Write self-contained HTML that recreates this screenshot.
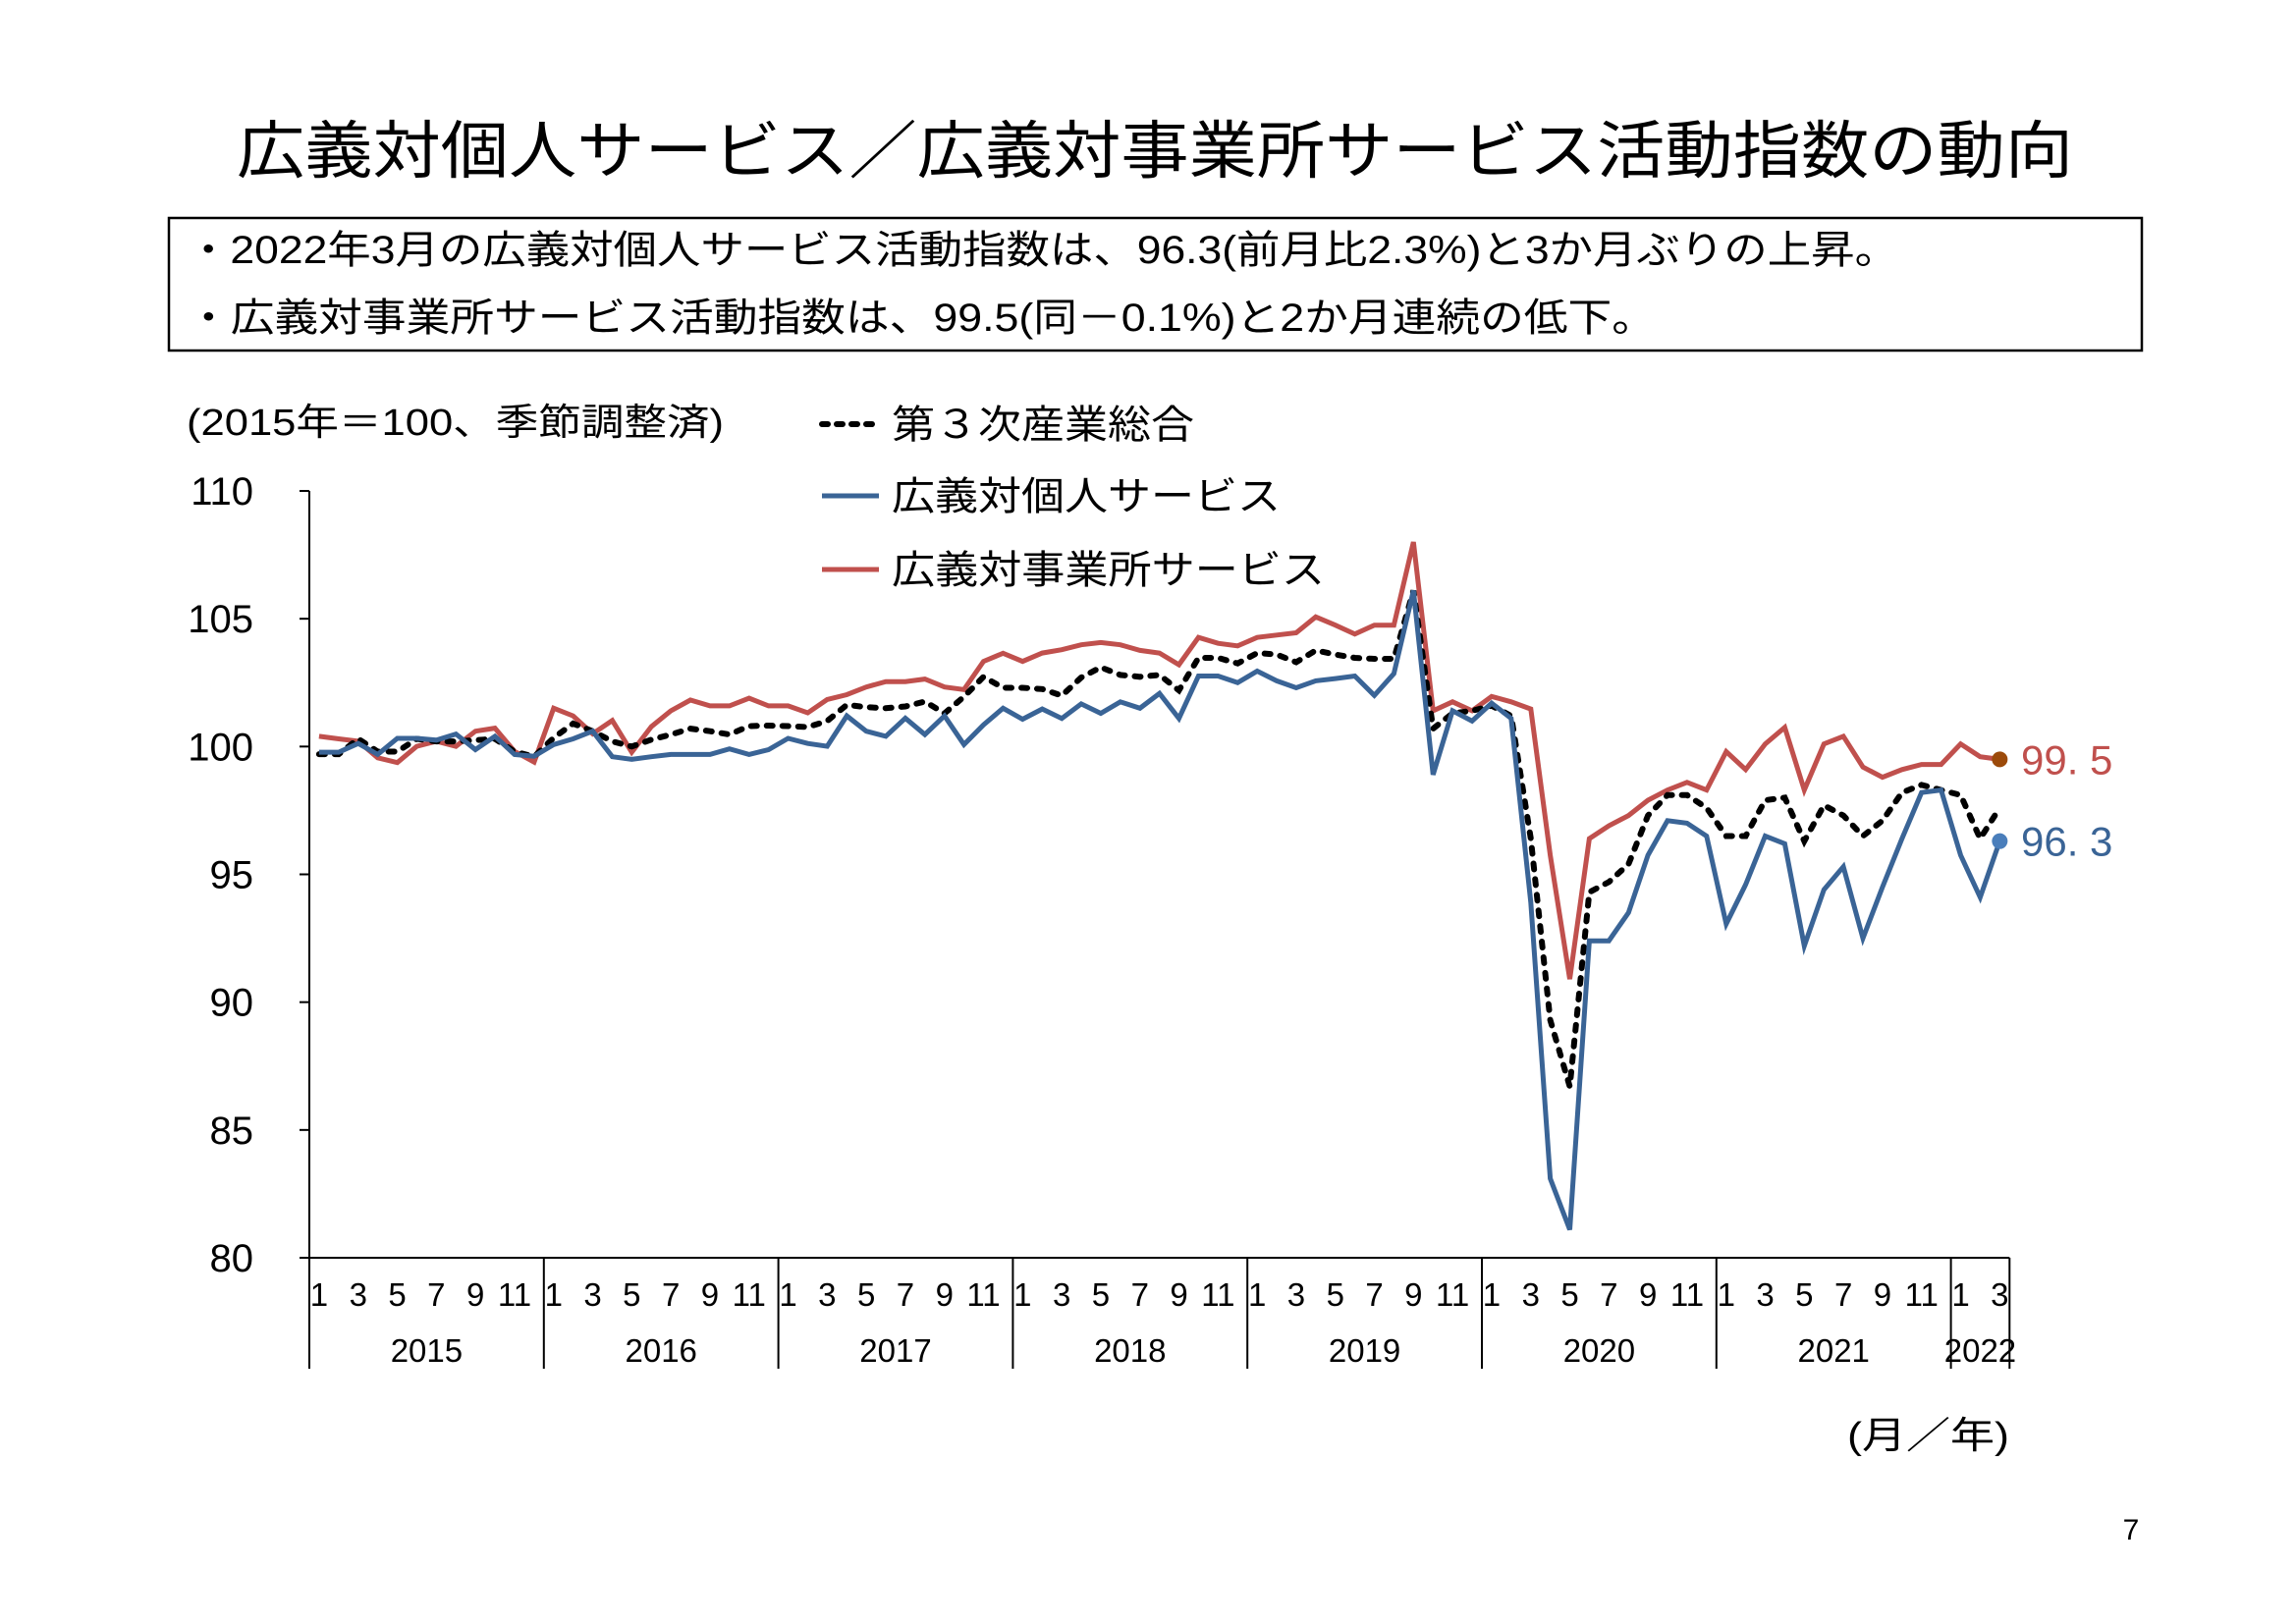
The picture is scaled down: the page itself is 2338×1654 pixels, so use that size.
<!DOCTYPE html>
<html><head><meta charset="utf-8">
<style>
html,body{margin:0;padding:0;background:#fff;}
svg{display:block;}
text{font-family:"Liberation Sans Narrow","Liberation Sans","Noto Sans CJK JP",sans-serif;}
.jp{font-family:"Liberation Sans","Noto Sans CJK JP",sans-serif;}
</style></head>
<body>
<svg id="chart" xmlns="http://www.w3.org/2000/svg" width="2338" height="1654" viewBox="0 0 2338 1654">
<text class="jp" x="1176" y="176" font-size="64" text-anchor="middle" textLength="1870" lengthAdjust="spacingAndGlyphs">広義対個人サービス／広義対事業所サービス活動指数の動向</text>
<rect x="172" y="222" width="2009" height="135" fill="none" stroke="#000" stroke-width="2.5"/>
<text class="jp" x="190" y="268" font-size="40" textLength="1743" lengthAdjust="spacingAndGlyphs">・2022年3月の広義対個人サービス活動指数は、96.3(前月比2.3%)と3か月ぶりの上昇。</text>
<text class="jp" x="190" y="337" font-size="40" textLength="1496" lengthAdjust="spacingAndGlyphs">・広義対事業所サービス活動指数は、99.5(同－0.1%)と2か月連続の低下。</text>
<text class="jp" x="190" y="443" font-size="38" textLength="547" lengthAdjust="spacingAndGlyphs">(2015年＝100、季節調整済)</text>
<g>
<line x1="837" y1="432" x2="893" y2="432" stroke="#000" stroke-width="6" stroke-dasharray="6 9" stroke-linecap="round"/>
<text class="jp" x="908" y="446" font-size="40" textLength="308" lengthAdjust="spacingAndGlyphs">第３次産業総合</text>
<line x1="837" y1="505" x2="895" y2="505" stroke="#3A6496" stroke-width="5"/>
<text class="jp" x="908" y="519" font-size="40" textLength="396" lengthAdjust="spacingAndGlyphs">広義対個人サービス</text>
<line x1="837" y1="580" x2="895" y2="580" stroke="#C0504D" stroke-width="5"/>
<text class="jp" x="908" y="594" font-size="40" textLength="441" lengthAdjust="spacingAndGlyphs">広義対事業所サービス</text>
</g>
<g id="axes"></g>
<g id="series"></g>
<text class="jp" x="1881" y="1475" font-size="38" textLength="165" lengthAdjust="spacingAndGlyphs">(月／年)</text>
<text x="2170" y="1568" font-size="30" text-anchor="middle">7</text>
</svg>
<script>
const years = ["2015","2016","2017","2018","2019","2020","2021","2022"];
const yTicks = [80,85,90,95,100,105,110];
const tertiary = [
99.7,99.7,100.3,99.8,99.8,100.3,100.2,100.2,100.25,100.3,99.8,99.6,
100.34,100.9,100.6,100.2,100.0,100.27,100.47,100.7,100.6,100.47,100.8,100.82,
100.8,100.76,101.0,101.63,101.54,101.5,101.57,101.76,101.3,101.95,102.73,102.3,
102.3,102.25,101.99,102.7,103.1,102.8,102.73,102.8,102.2,103.47,103.47,103.25,
103.66,103.6,103.3,103.76,103.6,103.47,103.43,103.43,106.1,100.7,101.3,101.4,
101.6,101.2,96.4,89.3,86.7,94.3,94.7,95.4,97.3,98.1,98.1,97.6,
96.5,96.5,97.9,98.0,96.3,97.7,97.3,96.5,97.1,98.2,98.5,98.3,
98.1,96.4,97.6];
const personal = [
99.78,99.78,100.12,99.69,100.32,100.32,100.25,100.49,99.88,100.4,99.69,99.62,
100.08,100.3,100.6,99.6,99.5,99.6,99.69,99.69,99.69,99.91,99.69,99.88,
100.32,100.12,100.01,101.2,100.6,100.4,101.11,100.47,101.2,100.08,100.85,101.5,
101.07,101.47,101.1,101.67,101.3,101.75,101.5,102.08,101.1,102.76,102.76,102.5,
102.95,102.57,102.3,102.57,102.66,102.76,102.0,102.85,106.1,98.9,101.4,101.0,
101.7,101.1,93.9,83.1,81.1,92.4,92.4,93.5,95.75,97.1,97.0,96.5,
93.06,94.6,96.5,96.2,92.2,94.4,95.3,92.5,94.5,96.4,98.2,98.3,
95.75,94.1,96.3];
const business = [
100.4,100.3,100.21,99.56,99.37,100.01,100.21,100.01,100.6,100.72,99.81,99.39,
101.5,101.2,100.5,101.02,99.78,100.78,101.4,101.82,101.59,101.59,101.89,101.59,
101.59,101.32,101.84,102.03,102.33,102.54,102.54,102.64,102.33,102.23,103.33,103.65,
103.33,103.66,103.79,103.98,104.07,103.98,103.76,103.66,103.2,104.27,104.04,103.94,
104.27,104.36,104.45,105.07,104.75,104.4,104.75,104.75,108.0,101.4,101.75,101.4,
101.96,101.75,101.47,95.75,90.9,96.4,96.9,97.3,97.9,98.3,98.6,98.3,
99.8,99.1,100.1,100.75,98.3,100.1,100.4,99.2,98.8,99.1,99.3,99.3,
100.1,99.6,99.5];

const NS="http://www.w3.org/2000/svg";
const X0=315, STEP=19.9, Y110=500, Y80=1281;
const N=personal.length;
const xAt=i=>X0+STEP*(i+0.5);
const yAt=v=>Y80-(v-80)*(Y80-Y110)/30;
const axes=document.getElementById('axes');
const series=document.getElementById('series');
function mk(tag,attrs,parent){const e=document.createElementNS(NS,tag);for(const k in attrs)e.setAttribute(k,attrs[k]);parent.appendChild(e);return e;}

const xEnd=X0+STEP*N;
let e=mk('line',{x1:X0,y1:Y110,x2:X0,y2:1394,stroke:'#000','stroke-width':2},axes);


e=mk('line',{x1:X0,y1:Y80,x2:xEnd,y2:Y80,stroke:'#000','stroke-width':2},axes);


yTicks.forEach(t=>{
  const y=yAt(t);
  let l=mk('line',{x1:X0-10,y1:y,x2:X0,y2:y,stroke:'#000','stroke-width':2},axes);
  
  
  let tx=mk('text',{x:258,y:y+14,'font-size':40,'text-anchor':'end'},axes);
  tx.textContent=t;
  
  
});
years.forEach((yr,k)=>{
  const start=k*12, months=Math.min(12,N-start);
  const xs=X0+STEP*start, xe=X0+STEP*(start+months);
  let l=mk('line',{x1:xe,y1:Y80,x2:xe,y2:1394,stroke:'#000','stroke-width':2},axes);
  
  
  for(let m=1;m<=months;m+=2){
    let t=mk('text',{x:xAt(start+m-1),y:1330,'font-size':33,'text-anchor':'middle'},axes);
    t.textContent=m;
    
    
  }
  let t=mk('text',{x:(xs+xe)/2,y:1387,'font-size':33,'text-anchor':'middle'},axes);
  t.textContent=yr;
  
  
});
function path(vals){return vals.map((v,i)=>(i?'L':'M')+xAt(i).toFixed(1)+' '+yAt(v).toFixed(1)).join(' ');}
let p=mk('path',{d:path(business),fill:'none',stroke:'#C0504D','stroke-width':5,'stroke-linejoin':'miter'},series);


p=mk('path',{d:path(tertiary),fill:'none',stroke:'#000','stroke-width':6,'stroke-dasharray':'6 10','stroke-linecap':'round'},series);


p=mk('path',{d:path(personal),fill:'none',stroke:'#3A6496','stroke-width':5},series);


const last=N-1;
let c=mk('circle',{cx:xAt(last),cy:yAt(business[last]),r:8,fill:'#9C4A0A'},series);


c=mk('circle',{cx:xAt(last),cy:yAt(personal[last]),r:8,fill:'#4A7EBB'},series);


let lt=mk('text',{x:2058,y:yAt(business[last])+15,'font-size':42,fill:'#C0504D'},series);
lt.textContent=business[last].toFixed(1).replace('.','. ');


lt=mk('text',{x:2058,y:yAt(personal[last])+15,'font-size':42,fill:'#3A6496'},series);
lt.textContent=personal[last].toFixed(1).replace('.','. ');


</script>
</body></html>
